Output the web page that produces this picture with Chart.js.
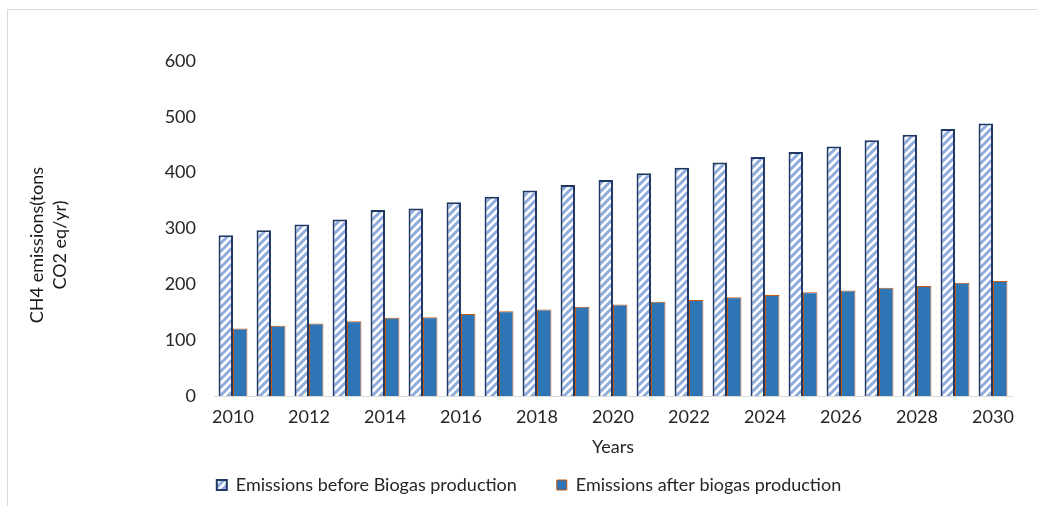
<!DOCTYPE html>
<html>
<head>
<meta charset="utf-8">
<script src="https://cdn.jsdelivr.net/npm/chart.js@4.4.0/dist/chart.umd.min.js"></script>
<style>
    html, body { margin: 0; padding: 0; background: #fff; }
    #wrap { position: relative; width: 1037px; height: 506px; }
    #frame {
        position: absolute; left: 7px; top: 9px; right: 0; bottom: 0;
        border-top: 1px solid #d9d9d9; border-left: 1px solid #d9d9d9;
        pointer-events: none;
    }
</style>
</head>
<body>
<div id="wrap">
    <canvas id="emissionsChart" width="1037" height="506"></canvas>
    <div id="frame"></div>
</div>
<script>
const years = ['2010', '2011', '2012', '2013', '2014', '2015', '2016', '2017', '2018', '2019', '2020',
               '2021', '2022', '2023', '2024', '2025', '2026', '2027', '2028', '2029', '2030'];
const beforeBiogas = [288, 297, 307, 316, 333, 336, 347, 357, 368, 378, 387,
                      399, 409, 418, 428, 437, 447, 458, 468, 478, 488];
const afterBiogas = [121, 126, 130, 134, 140, 141, 147, 152, 155, 160, 164,
                     169, 172, 177, 181, 186, 189, 194, 197, 203, 206];
const yTicks = [0, 100, 200, 300, 400, 500, 600];
const yTitleLines = ['CH4 emissions(tons', 'CO2 eq/yr)'];
const xTitle = 'Years';
const seriesNames = ['Emissions before Biogas production', 'Emissions after biogas production'];

const FONT = 'Lato';
const TEXT = '#262626';

// diagonal hatch used by the "before" bars
function makeHatch(ctx) {
    const size = 8;
    const c = document.createElement('canvas');
    c.width = size;
    c.height = size;
    const g = c.getContext('2d');
    g.fillStyle = '#ffffff';
    g.fillRect(0, 0, size, size);
    g.strokeStyle = '#8faadc';
    g.lineWidth = 3;
    g.beginPath();
    g.moveTo(-1, size + 1); g.lineTo(size + 1, -1);
    g.moveTo(-2, 2); g.lineTo(2, -2);
    g.moveTo(size - 2, size + 2); g.lineTo(size + 2, size - 2);
    g.stroke();
    return ctx.createPattern(c, 'repeat');
}

// y title drawn by hand so it sits where the original has it
const yTitlePlugin = {
    id: 'yTitle',
    afterDraw(chart) {
        const ctx = chart.ctx;
        ctx.save();
        ctx.fillStyle = '#1a1a1a';
        ctx.font = `18px ${FONT}`;
        ctx.textAlign = 'center';
        ctx.textBaseline = 'middle';
        yTitleLines.forEach((line, i) => {
            ctx.save();
            ctx.translate(37 + i * 23, 245);
            ctx.rotate(-Math.PI / 2);
            ctx.fillText(line, 0, 0);
            ctx.restore();
        });
        ctx.restore();
    }
};

const ctx = document.getElementById('emissionsChart').getContext('2d');
new Chart(ctx, {
    type: 'bar',
    data: {
        labels: years,
        datasets: [
            {
                label: seriesNames[0],
                data: beforeBiogas,
                backgroundColor: makeHatch(ctx),
                borderColor: '#1f3864',
                borderWidth: 2,
                borderSkipped: 'start'
            },
            {
                label: seriesNames[1],
                data: afterBiogas,
                backgroundColor: '#2e75b6',
                borderColor: '#c55a11',
                borderWidth: 1,
                borderSkipped: 'start'
            }
        ]
    },
    options: {
        responsive: false,
        animation: false,
        devicePixelRatio: 1,
        layout: { padding: { left: 46, right: 25, top: 61, bottom: 2 } },
        datasets: { bar: { categoryPercentage: 0.76, barPercentage: 1 } },
        scales: {
            x: {
                grid: { display: false, drawTicks: false },
                border: { display: true, color: '#d9d9d9', width: 1 },
                ticks: {
                    autoSkip: false,
                    maxRotation: 0,
                    padding: 10,
                    color: TEXT,
                    font: { family: FONT, size: 18 },
                    callback: (value, index) => index % 2 === 0 ? years[index] : ''
                },
                title: {
                    display: true,
                    text: xTitle,
                    color: TEXT,
                    padding: { top: 0, bottom: -22 },
                    font: { family: FONT, size: 18 }
                },
                afterFit: (scale) => { scale.height = 40; }
            },
            y: {
                min: yTicks[0],
                max: yTicks[yTicks.length - 1],
                grid: { display: false, drawTicks: false },
                border: { display: false },
                afterBuildTicks: (scale) => { scale.ticks = yTicks.map(v => ({ value: v })); },
                ticks: {
                    padding: 18,
                    color: TEXT,
                    font: { family: FONT, size: 18 }
                },
                afterFit: (scale) => { scale.width = 168; }
            }
        },
        plugins: {
            legend: {
                position: 'bottom',
                labels: {
                    boxWidth: 10,
                    boxHeight: 10,
                    padding: 40,
                    color: TEXT,
                    font: { family: FONT, size: 18 }
                }
            },
            tooltip: { enabled: false }
        }
    },
    plugins: [yTitlePlugin]
});
</script>
</body>
</html>
